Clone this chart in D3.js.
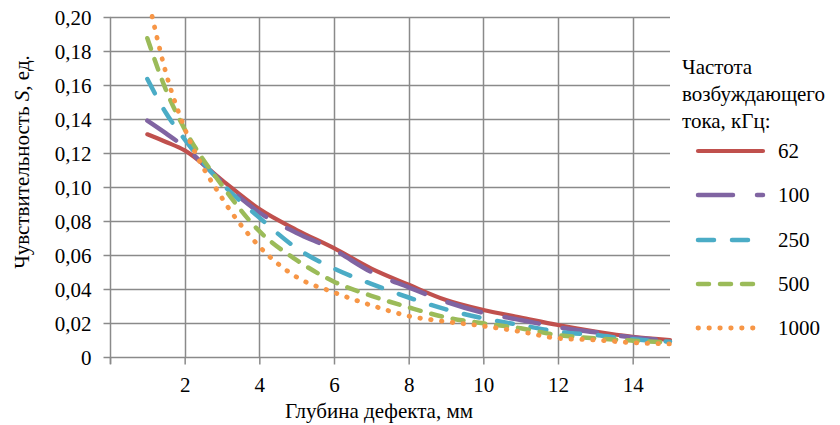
<!DOCTYPE html>
<html>
<head>
<meta charset="utf-8">
<script src="https://cdn.jsdelivr.net/npm/d3@7"></script>
<style>
  html, body { margin: 0; padding: 0; background: #fff; }
  svg { display: block; }
</style>
</head>
<body>
<svg id="chart" width="840" height="425"></svg>
<script>
// ---- Data ----
const depth = [1, 1.5, 2, 3, 4, 5, 6, 7, 8, 9, 10, 11, 12, 13, 14, 15];
const s62   = [0.131, 0.1265, 0.1215, 0.104, 0.087, 0.0747, 0.064, 0.052, 0.0425, 0.0335, 0.0276, 0.0232, 0.0188, 0.015, 0.0119, 0.0100];
const s100  = [0.139, 0.1315, 0.1235, 0.103, 0.085, 0.073, 0.063, 0.050, 0.041, 0.0325, 0.026, 0.0218, 0.0175, 0.0145, 0.0115, 0.0096];
const s250  = [0.1635, 0.1435, 0.128, 0.102, 0.082, 0.064, 0.052, 0.043, 0.035, 0.028, 0.0227, 0.0188, 0.0149, 0.0129, 0.0104, 0.0090];
const s500  = [0.1875, 0.157, 0.134, 0.101, 0.074, 0.057, 0.0443, 0.036, 0.0292, 0.0233, 0.0198, 0.0169, 0.0129, 0.0110, 0.0096, 0.0085];
const s1000 = [0.213, 0.167, 0.1345, 0.0935, 0.065, 0.047, 0.038, 0.0304, 0.0241, 0.0208, 0.0182, 0.0149, 0.0110, 0.0100, 0.0084, 0.0077];
const seriesNames = ["62", "100", "250", "500", "1000"];
const xTicks = [2, 4, 6, 8, 10, 12, 14];
const yTicks = [0, 0.02, 0.04, 0.06, 0.08, 0.10, 0.12, 0.14, 0.16, 0.18, 0.20];
const yTickLabels = ["0", "0,02", "0,04", "0,06", "0,08", "0,10", "0,12", "0,14", "0,16", "0,18", "0,20"];
const xTitle = "Глубина дефекта, мм";
const yTitleMain = "Чувствительность ";
const yTitleItalic = "S";
const yTitleEnd = ", ед.";
const legendTitle = ["Частота", "возбуждающего", "тока, кГц:"];

// ---- Styles ----
const FONT = "'Liberation Serif', 'DejaVu Serif', serif";
const FS = 21;
const styles = [
  { color: "#C0504D", dash: null, cap: "round", width: 4.2 },
  { color: "#8064A2", dash: "35 24", cap: "round", width: 4.5 },
  { color: "#4BACC6", dash: "16 18", cap: "round", width: 4.5 },
  { color: "#9BBB59", dash: "11 11", cap: "round", width: 4.5 },
  { color: "#F79646", dash: "0.5 10.4", cap: "round", width: 4.8 }
];
const allSeries = [s62, s100, s250, s500, s1000];

const svg = d3.select("#chart");
const pL = 110, pR = 670, pT = 17, pB = 357;
const x = d3.scaleLinear().domain([0, 15]).range([pL, pR]);
const y = d3.scaleLinear().domain([0, 0.20]).range([pB, pT]);
const gridColor = "#8a8a8a";

// Gridlines
const grid = svg.append("g");
grid.selectAll("line.h").data(yTicks.filter(d => d > 0)).join("line")
  .attr("x1", pL).attr("x2", pR)
  .attr("y1", d => Math.round(y(d)) + 0.5).attr("y2", d => Math.round(y(d)) + 0.5)
  .attr("stroke", gridColor).attr("stroke-width", 1.5);
grid.selectAll("line.v").data(xTicks).join("line")
  .attr("x1", d => Math.round(x(d)) + 0.5).attr("x2", d => Math.round(x(d)) + 0.5)
  .attr("y1", pT).attr("y2", pB)
  .attr("stroke", gridColor).attr("stroke-width", 1.5);

// Y axis
const yAxis = svg.append("g")
  .attr("transform", `translate(${pL + 0.5},0)`)
  .call(d3.axisLeft(y).tickValues(yTicks).tickSize(7).tickPadding(12)
    .tickFormat((d, i) => yTickLabels[i]));
yAxis.attr("font-family", FONT).attr("font-size", FS);
yAxis.select(".domain").attr("stroke", gridColor).attr("stroke-width", 1.5).attr("d", `M0,${pT}V${pB + 7}`);
yAxis.selectAll(".tick line").attr("stroke", gridColor).attr("stroke-width", 1.5);
yAxis.selectAll(".tick text").style("font-family", FONT).attr("font-size", FS).attr("dy", "0.34em").attr("fill", "#000");

// X axis
const xAxis = svg.append("g")
  .attr("transform", `translate(0,${pB + 0.5})`)
  .call(d3.axisBottom(x).tickValues([0].concat(xTicks)).tickSize(7).tickPadding(13)
    .tickFormat(d => d === 0 ? "" : String(d)));
xAxis.attr("font-family", FONT).attr("font-size", FS);
xAxis.select(".domain").attr("stroke", gridColor).attr("stroke-width", 1.5).attr("d", `M${pL},0H${pR}`);
xAxis.selectAll(".tick line").attr("stroke", gridColor).attr("stroke-width", 1.5);
xAxis.selectAll(".tick text").style("font-family", FONT).attr("font-size", FS).attr("fill", "#000");

// Clip
svg.append("clipPath").attr("id", "plotclip")
  .append("rect").attr("x", pL).attr("y", pT - 3).attr("width", pR - pL + 3).attr("height", pB - pT + 6);

const line = d3.line().x(d => x(d[0])).y(d => y(d[1])).curve(d3.curveMonotoneX);
const plot = svg.append("g").attr("clip-path", "url(#plotclip)");
allSeries.forEach((vals, i) => {
  const st = styles[i];
  plot.append("path")
    .datum(depth.map((d, j) => [d, vals[j]]))
    .attr("d", line)
    .attr("fill", "none")
    .attr("stroke", st.color)
    .attr("stroke-width", st.width)
    .attr("stroke-linecap", st.cap)
    .attr("stroke-linejoin", "round")
    .attr("stroke-dasharray", st.dash);
});

// Axis titles
svg.append("text").attr("x", 379).attr("y", 418).attr("text-anchor", "middle")
  .style("font-family", FONT).attr("font-size", FS).text(xTitle);
const yt = svg.append("text").attr("transform", "translate(29,162) rotate(-90)")
  .attr("text-anchor", "middle").style("font-family", FONT).attr("font-size", FS);
yt.append("tspan").text(yTitleMain);
yt.append("tspan").attr("font-style", "italic").text(yTitleItalic);
yt.append("tspan").text(yTitleEnd);

// Legend
const lg = svg.append("g").style("font-family", FONT).attr("font-size", FS);
legendTitle.forEach((t, i) => {
  lg.append("text").attr("x", 682).attr("y", 74 + i * 27).text(t);
});
const ly = [151, 195, 240, 284, 328];
seriesNames.forEach((n, i) => {
  const st = styles[i];
  lg.append("line").attr("x1", 698).attr("x2", 763).attr("y1", ly[i]).attr("y2", ly[i])
    .attr("stroke", st.color).attr("stroke-width", st.width)
    .attr("stroke-linecap", st.cap).attr("stroke-dasharray", st.dash);
  lg.append("text").attr("x", 778).attr("y", ly[i] + 7).text(n);
});
</script>
</body>
</html>
